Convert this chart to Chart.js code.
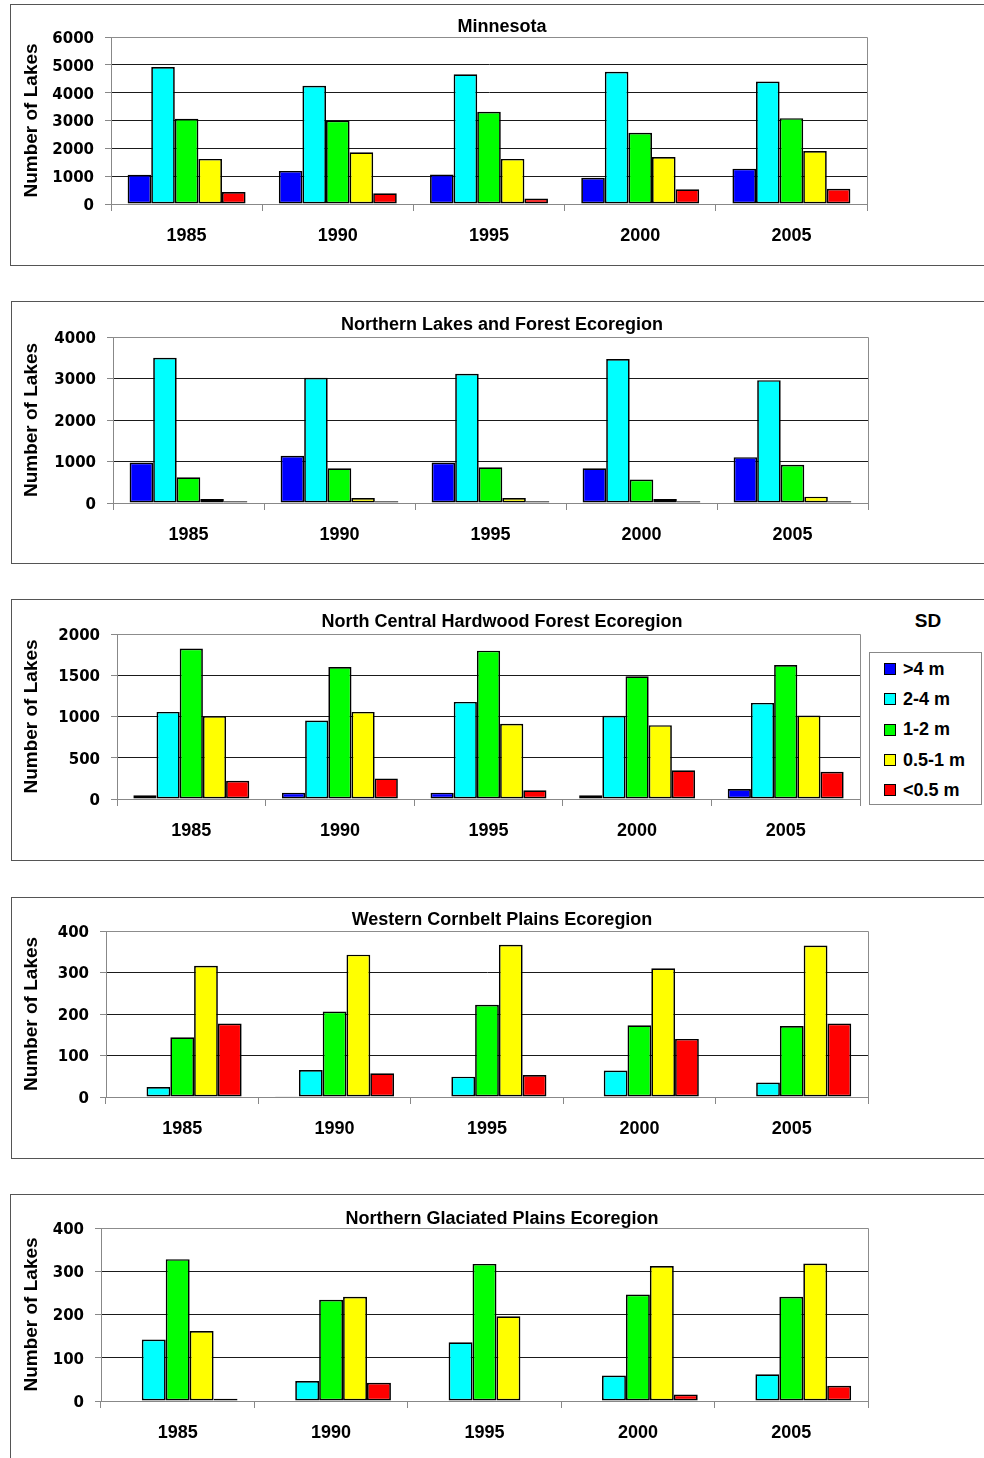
<!DOCTYPE html>
<html>
<head>
<meta charset="utf-8">
<script src="https://cdn.jsdelivr.net/npm/chart.js@4.4.1/dist/chart.umd.min.js"></script>
<style>
  body { margin: 0; background: #fff; width: 984px; height: 1458px; position: relative; overflow: hidden; }
  .frame { position: absolute; border: 1px solid #555; box-sizing: border-box; }
  canvas { position: absolute; left: 0; }
  #sdTitle { position: absolute; left: 898px; top: 611px; width: 60px; text-align: center;
    font: bold 19px "Liberation Sans", Arial, sans-serif; line-height: 19px; }
  #sdLegend { position: absolute; left: 869px; top: 652px; width: 113px; height: 153px;
    border: 1px solid #888; box-sizing: border-box; padding-top: 1px; background: #fff; }
  #sdLegend .item { height: 30.3px; display: flex; align-items: center;
    font: bold 18px "Liberation Sans", Arial, sans-serif; }
  #sdLegend .swatch { width: 10px; height: 10px; border: 1px solid #000; margin-left: 14px; margin-right: 7px; }
</style>
</head>
<body>
<div id="sdTitle">SD</div>
<div id="sdLegend"></div>
<script>
const years = ['1985', '1990', '1995', '2000', '2005'];
const sdClasses = ['>4 m', '2-4 m', '1-2 m', '0.5-1 m', '<0.5 m'];
const classColors = ['#0000ff', '#00ffff', '#00ff00', '#ffff00', '#ff0000'];

// number of lakes per Secchi depth class (rows) and year (columns)
const minnesota = [
  [1050, 1190, 1060, 940, 1270],
  [4920, 4250, 4660, 4750, 4400],
  [3060, 3000, 3310, 2560, 3085],
  [1620, 1860, 1620, 1690, 1900],
  [430, 385, 200, 530, 550]
];
const northernLakes = [
  [976, 1137, 976, 839, 1105],
  [3500, 3016, 3113, 3468, 2960],
  [620, 839, 860, 565, 920],
  [97, 121, 121, 97, 153],
  [40, 40, 40, 40, 40]
];
const northCentral = [
  [44, 77, 77, 44, 121],
  [1056, 952, 1177, 1008, 1165],
  [1823, 1600, 1798, 1488, 1625],
  [1004, 1056, 911, 895, 1012],
  [222, 250, 105, 347, 331]
];
const westernCornbelt = [
  [0, 2, 0, 0, 0],
  [24, 65, 49, 64, 35],
  [144, 206, 222, 173, 171],
  [316, 343, 367, 310, 365],
  [177, 57, 53, 140, 177]
];
const northernGlaciated = [
  [0, 0, 0, 0, 0],
  [142, 46, 136, 59, 62],
  [328, 234, 317, 246, 241],
  [162, 241, 196, 312, 318],
  [5, 42, 0, 15, 35]
];

// panel layout (page pixels)
const panels = [
  { title: 'Minnesota', counts: minnesota, max: 6000, step: 1000,
    frame: { left: 10, top: 4, bottom: 265 }, plot: { left: 111, right: 867, top: 37, bottom: 204 }, titleY: 32 },
  { title: 'Northern Lakes and Forest Ecoregion', counts: northernLakes, max: 4000, step: 1000,
    frame: { left: 11, top: 301, bottom: 563 }, plot: { left: 113, right: 868, top: 337, bottom: 503 }, titleY: 330 },
  { title: 'North Central Hardwood Forest Ecoregion', counts: northCentral, max: 2000, step: 500,
    frame: { left: 11, top: 599, bottom: 860 }, plot: { left: 117, right: 860, top: 634, bottom: 799 }, titleY: 627 },
  { title: 'Western Cornbelt Plains Ecoregion', counts: westernCornbelt, max: 400, step: 100,
    frame: { left: 11, top: 897, bottom: 1158 }, plot: { left: 106, right: 868, top: 931, bottom: 1097 }, titleY: 925 },
  { title: 'Northern Glaciated Plains Ecoregion', counts: northernGlaciated, max: 400, step: 100,
    frame: { left: 10, top: 1194, bottom: 1500 }, plot: { left: 101, right: 868, top: 1228, bottom: 1401 }, titleY: 1224 }
];

const arial = '"Liberation Sans", Arial, sans-serif';

// title text above each plot, centred on a fixed x
const panelTitle = {
  id: 'panelTitle',
  afterDraw(chart, args, opts) {
    const ctx = chart.ctx;
    ctx.save();
    ctx.font = 'bold 18px ' + arial;
    ctx.fillStyle = '#000';
    ctx.textAlign = 'center';
    ctx.textBaseline = 'alphabetic';
    ctx.fillText(opts.text, opts.x, opts.y);
    ctx.restore();
  }
};

// grey top and right edges of the plot area
const plotFrame = {
  id: 'plotFrame',
  beforeDatasetsDraw(chart) {
    const { ctx, chartArea: a } = chart;
    ctx.save();
    ctx.strokeStyle = '#8c8c8c';
    ctx.lineWidth = 1;
    ctx.beginPath();
    ctx.moveTo(a.left, a.top + 0.5);
    ctx.lineTo(a.right + 0.5, a.top + 0.5);
    ctx.lineTo(a.right + 0.5, a.bottom);
    ctx.stroke();
    ctx.restore();
  }
};

function makePanel(p) {
  const frame = document.createElement('div');
  frame.className = 'frame';
  frame.style.left = p.frame.left + 'px';
  frame.style.top = p.frame.top + 'px';
  frame.style.width = (1000 - p.frame.left) + 'px';
  frame.style.height = (p.frame.bottom - p.frame.top + 1) + 'px';
  document.body.appendChild(frame);

  const canvasHeight = p.plot.bottom - p.frame.top + 50;
  const canvas = document.createElement('canvas');
  canvas.width = 984;
  canvas.height = canvasHeight;
  canvas.style.top = p.frame.top + 'px';
  document.body.appendChild(canvas);

  const datasets = sdClasses.map((label, i) => ({
    label: label,
    data: p.counts[i],
    backgroundColor: classColors[i],
    borderColor: '#000',
    borderWidth: 1.7,
    borderSkipped: false,
    categoryPercentage: 0.78,
    barPercentage: 1.0
  }));

  return new Chart(canvas, {
    type: 'bar',
    data: { labels: years, datasets: datasets },
    plugins: [plotFrame, panelTitle],
    options: {
      responsive: false,
      animation: false,
      layout: { padding: { top: p.plot.top - p.frame.top, right: 984 - p.plot.right, left: 0, bottom: 0 } },
      plugins: {
        legend: { display: false },
        tooltip: { enabled: false },
        panelTitle: { text: p.title, x: 502, y: p.titleY - p.frame.top }
      },
      scales: {
        x: {
          offset: true,
          grid: { offset: true, drawOnChartArea: false, drawTicks: true, tickLength: 7, color: '#888', lineWidth: 1 },
          border: { display: true, color: '#888', width: 1 },
          ticks: { color: '#000', padding: 14, maxRotation: 0, font: { family: arial, size: 18, weight: 'bold' } },
          afterFit: s => { s.height = canvasHeight - (p.plot.bottom - p.frame.top); }
        },
        y: {
          min: 0,
          max: p.max,
          ticks: {
            stepSize: p.step,
            padding: 11,
            labelOffset: 2,
            color: '#000',
            font: { family: '"DejaVu Sans"', size: 15, weight: 'bold' },
            callback: v => String(v)
          },
          grid: {
            color: c => (c.tick && (c.tick.value === 0 || c.tick.value === p.max)) ? '#8c8c8c' : '#1a1a1a',
            tickColor: '#888',
            tickLength: 6,
            lineWidth: 1
          },
          border: { display: true, color: '#888', width: 1 },
          title: {
            display: true,
            text: 'Number of Lakes',
            color: '#000',
            font: { family: arial, size: 19, weight: 'bold' },
            padding: { top: 20, bottom: 0 }
          },
          afterFit: s => { s.width = p.plot.left; }
        }
      }
    }
  });
}

const charts = panels.map(makePanel);

// SD legend built from the ecoregion chart's datasets
const legendBox = document.getElementById('sdLegend');
charts[2].data.datasets.forEach(ds => {
  const row = document.createElement('div');
  row.className = 'item';
  const swatch = document.createElement('span');
  swatch.className = 'swatch';
  swatch.style.background = ds.backgroundColor;
  const text = document.createElement('span');
  text.textContent = ds.label;
  row.append(swatch, text);
  legendBox.append(row);
});
</script>
</body>
</html>
